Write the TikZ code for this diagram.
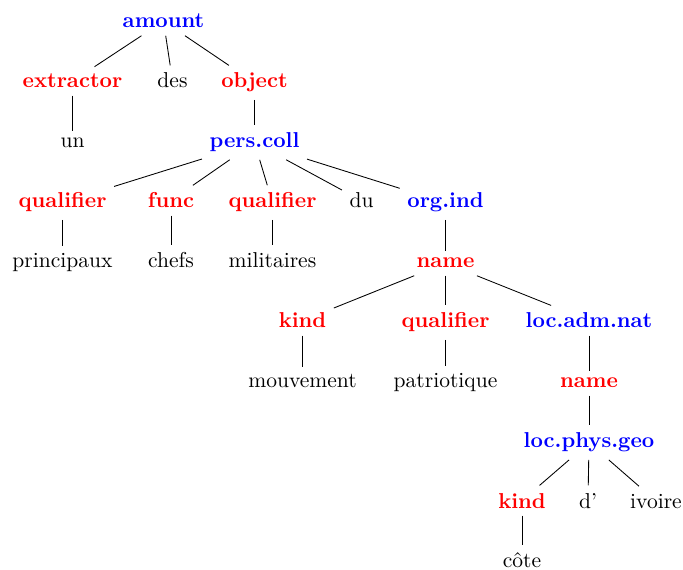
\documentclass[tikz,border=0pt]{standalone}
\usepackage{fontspec}
\begin{document}
\begin{tikzpicture}[x=0.464pt,y=-0.464pt,
  w/.style={anchor=base, inner sep=.3333em},
  lab/.style={w, font=\bfseries, text=red},
  cat/.style={w, font=\bfseries, text=blue},
  edge/.style={draw=black, line width=0.4pt}]
\useasboundingbox (0,0) rectangle (683,570);
% row 0
\node[cat] (amount) at (163.5,28) {amount};
% row 1
\node[lab] (extractor) at (72.5,88) {extractor};
\node[w] (des) at (172.5,88) {des};
\node[lab] (object) at (254.5,88) {object};
% row 2
\node[w] (un) at (72.5,148) {un};
\node[cat] (perscoll) at (254.5,148) {pers.coll};
% row 3
\node[lab] (qual1) at (62.5,208) {qualifier};
\node[lab] (func) at (171,208) {func};
\node[lab] (qual2) at (272.5,208) {qualifier};
\node[w] (du) at (361.5,208) {du};
\node[cat] (orgind) at (445.5,208) {org.ind};
% row 4
\node[w] (principaux) at (62.5,268) {principaux};
\node[w] (chefs) at (171,268) {chefs};
\node[w] (militaires) at (272.5,268) {militaires};
\node[lab] (name1) at (445.5,268) {name};
% row 5
\node[lab] (kind1) at (302.5,328) {kind};
\node[lab] (qual3) at (445.5,328) {qualifier};
\node[cat] (locadm) at (589,328) {loc.adm.nat};
% row 6
\node[w] (mouvement) at (302.5,388) {mouvement};
\node[w] (patriotique) at (445.5,388) {patriotique};
\node[lab] (name2) at (589,388) {name};
% row 7
\node[cat] (locphys) at (589,448) {loc.phys.geo};
% row 8
\node[lab] (kind2) at (522,508) {kind};
\node[w] (d) at (588,508) {d'};
\node[w] (ivoire) at (656,508) {ivoire};
% row 9
\node[w] (cote) at (522,568) {côte};
% edges
\draw[edge] (amount) -- (extractor);
\draw[edge] (amount) -- (des);
\draw[edge] (amount) -- (object);
\draw[edge] (extractor) -- (un);
\draw[edge] (object) -- (perscoll);
\draw[edge] (perscoll) -- (qual1);
\draw[edge] (perscoll) -- (func);
\draw[edge] (perscoll) -- (qual2);
\draw[edge] (perscoll) -- (du);
\draw[edge] (perscoll) -- (orgind);
\draw[edge] (qual1) -- (principaux);
\draw[edge] (func) -- (chefs);
\draw[edge] (qual2) -- (militaires);
\draw[edge] (orgind) -- (name1);
\draw[edge] (name1) -- (kind1);
\draw[edge] (name1) -- (qual3);
\draw[edge] (name1) -- (locadm);
\draw[edge] (kind1) -- (mouvement);
\draw[edge] (qual3) -- (patriotique);
\draw[edge] (locadm) -- (name2);
\draw[edge] (name2) -- (locphys);
\draw[edge] (locphys) -- (kind2);
\draw[edge] (locphys) -- (d);
\draw[edge] (locphys) -- (ivoire);
\draw[edge] (kind2) -- (cote);
\end{tikzpicture}
\end{document}
